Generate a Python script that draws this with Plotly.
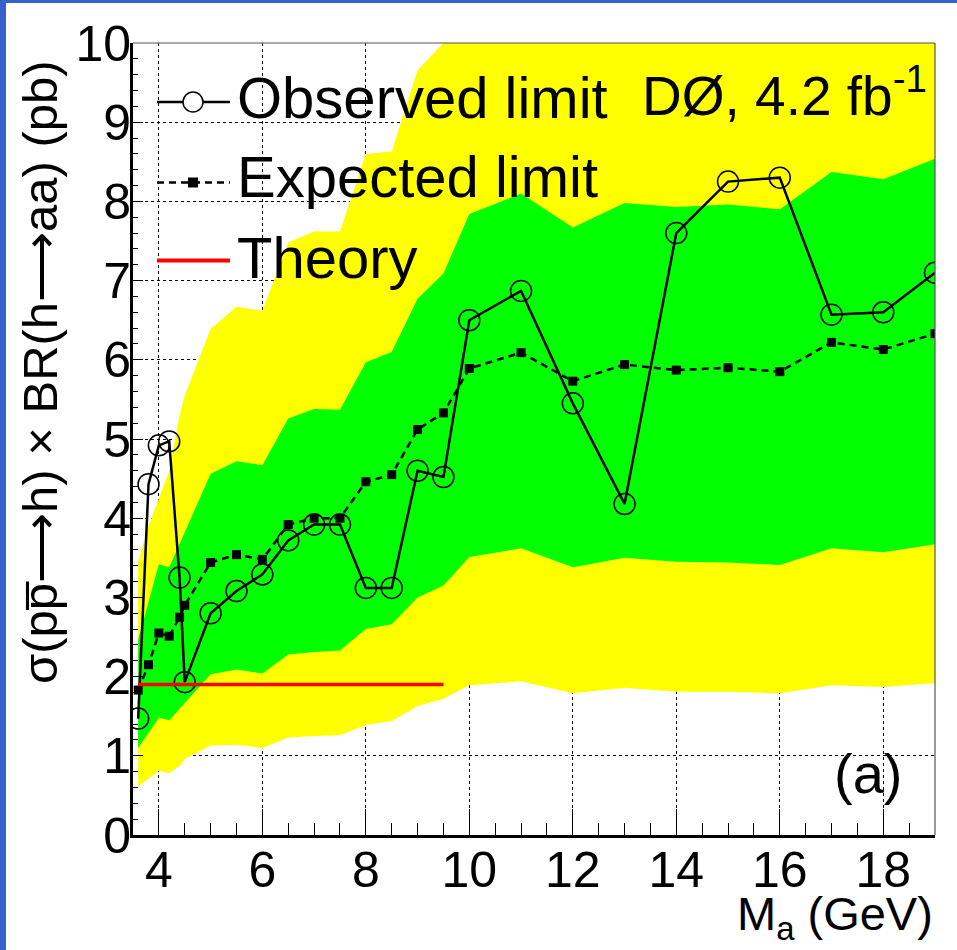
import plotly.graph_objects as go

# ---------------- data ----------------
mass = [3.6, 3.8, 4.0, 4.2, 4.4, 4.5, 5.0, 5.5, 6.0, 6.5, 7.0, 7.5, 8.0, 8.5,
        9.0, 9.5, 10, 11, 12, 13, 14, 15, 16, 17, 18, 19]
observed = [1.47, 4.43, 4.92, 4.97, 3.25, 1.93, 2.80, 3.08, 3.29, 3.72, 3.92, 3.92,
            3.12, 3.12, 4.60, 4.52, 6.50, 6.87, 5.45, 4.18, 7.60, 8.25, 8.30, 6.57,
            6.60, 7.10]
expected = [1.83, 2.15, 2.55, 2.51, 2.75, 2.90, 3.44, 3.54, 3.48, 3.92, 4.00, 4.00,
            4.46, 4.55, 5.12, 5.33, 5.89, 6.09, 5.73, 5.94, 5.87, 5.90, 5.85, 6.22,
            6.13, 6.33]
one_sigma_lo = [1.10, 1.29, 1.48, 1.45, 1.60, 1.67, 2.03, 2.09, 2.04, 2.28, 2.31, 2.33,
                2.60, 2.66, 3.00, 3.15, 3.51, 3.62, 3.38, 3.50, 3.45, 3.44, 3.41, 3.62,
                3.57, 3.67]
one_sigma_hi = [2.47, 2.93, 3.42, 3.38, 3.67, 3.83, 4.56, 4.72, 4.67, 5.26, 5.38, 5.37,
                5.97, 6.10, 6.77, 7.09, 7.84, 8.10, 7.67, 7.98, 7.93, 7.96, 7.90, 8.37,
                8.28, 8.54]
two_sigma_lo = [0.62, 0.71, 0.81, 0.78, 0.87, 0.96, 1.13, 1.14, 1.10, 1.23, 1.25, 1.26,
                1.39, 1.44, 1.63, 1.72, 1.89, 1.94, 1.79, 1.86, 1.81, 1.81, 1.79, 1.89,
                1.87, 1.92]
two_sigma_hi = [3.45, 3.90, 4.25, 4.60, 5.30, 5.55, 6.39, 6.67, 6.62, 7.48, 7.62, 7.62,
                8.60, 8.63, 9.66, 10.0, 10.9, 11.3, 10.7, 11.0, 10.9, 10.9, 10.8, 11.6,
                11.4, 11.8]
theory_mass = [3.6, 9.5]
theory_xsec = [1.9, 1.9]

x_ticks = [4, 6, 8, 10, 12, 14, 16, 18]
y_ticks = [0, 1, 2, 3, 4, 5, 6, 7, 8, 9, 10]

FONT = "Liberation Sans, Arial, sans-serif"

# ---------------- figure ----------------
W, H = 957, 950
L, R, T, B = 133, 935, 43, 835
pw, ph = R - L, B - T


def px(xp):
    return (xp - L) / pw


def py(yp):
    return (B - yp) / ph


fig = go.Figure()

fig.add_trace(go.Scatter(
    x=mass + mass[::-1], y=two_sigma_hi + two_sigma_lo[::-1],
    fill="toself", fillcolor="#ffff00", line=dict(width=0), mode="lines",
    hoverinfo="skip", showlegend=False))
fig.add_trace(go.Scatter(
    x=mass + mass[::-1], y=one_sigma_hi + one_sigma_lo[::-1],
    fill="toself", fillcolor="#00ff00", line=dict(width=0), mode="lines",
    hoverinfo="skip", showlegend=False))
fig.add_trace(go.Scatter(
    x=mass, y=expected, mode="lines+markers",
    line=dict(color="black", width=2.5, dash="7px,5px"),
    marker=dict(symbol="square", size=9, color="black"),
    showlegend=False, name="Expected limit"))
fig.add_trace(go.Scatter(
    x=mass, y=observed, mode="lines+markers",
    line=dict(color="black", width=2.5),
    marker=dict(symbol="circle-open", size=21, color="black", line=dict(width=1.5)),
    showlegend=False, name="Observed limit"))
fig.add_trace(go.Scatter(
    x=theory_mass, y=theory_xsec, mode="lines",
    line=dict(color="#ff0000", width=3.5),
    showlegend=False, name="Theory"))

shapes = []
# blue frame of the page
blue = "#3461cc"
shapes.append(dict(type="rect", xref="paper", yref="paper", x0=px(0), x1=px(6),
                   y0=py(H), y1=py(0), fillcolor=blue, line=dict(width=0), layer="above"))
shapes.append(dict(type="rect", xref="paper", yref="paper", x0=px(0), x1=px(W),
                   y0=py(3), y1=py(0), fillcolor=blue, line=dict(width=0), layer="above"))
# thin grey top and right frame
shapes.append(dict(type="line", xref="paper", yref="paper", x0=0, x1=1, y0=1, y1=1,
                   line=dict(color="#555555", width=1.2), layer="above"))
shapes.append(dict(type="line", xref="paper", yref="paper", x0=1, x1=1, y0=0, y1=1,
                   line=dict(color="#555555", width=1.2), layer="above"))

# manual legend symbols
lx0, lx1, lxc = px(157), px(230), 193
rows = [102, 182.5, 260.5]
shapes.append(dict(type="line", xref="paper", yref="paper", x0=lx0, x1=lx1,
                   y0=py(rows[0]), y1=py(rows[0]), line=dict(color="black", width=2.5)))
shapes.append(dict(type="circle", xref="paper", yref="paper",
                   x0=px(lxc - 10), x1=px(lxc + 10), y0=py(rows[0] + 10), y1=py(rows[0] - 10),
                   fillcolor="white", line=dict(color="black", width=1.5)))
shapes.append(dict(type="line", xref="paper", yref="paper", x0=lx0, x1=lx1,
                   y0=py(rows[1]), y1=py(rows[1]),
                   line=dict(color="black", width=2.5, dash="7px,5px")))
shapes.append(dict(type="rect", xref="paper", yref="paper",
                   x0=px(lxc - 5), x1=px(lxc + 5), y0=py(rows[1] + 5), y1=py(rows[1] - 5),
                   fillcolor="black", line=dict(width=0)))
shapes.append(dict(type="line", xref="paper", yref="paper", x0=lx0, x1=lx1,
                   y0=py(rows[2]), y1=py(rows[2]), line=dict(color="#ff0000", width=4)))

annotations = [
    dict(text="Observed limit", x=px(235), y=py(97), xanchor="left", yanchor="middle"),
    dict(text="Expected limit", x=px(235), y=py(176), xanchor="left", yanchor="middle"),
    dict(text="Theory", x=px(235), y=py(257), xanchor="left", yanchor="middle"),
    dict(text="DØ, 4.2 fb<sup>-1</sup>", x=px(640), y=py(92), xanchor="left",
         yanchor="middle", font=dict(size=55)),
    dict(text="(a)", x=px(868), y=py(773), xanchor="center", yanchor="middle",
         font=dict(size=56)),
    dict(text="σ(pp\u0305⟶h) × BR(h⟶aa) (pb)", x=px(40), y=py(372), textangle=-90,
         xanchor="center", yanchor="middle", font=dict(size=49)),
    dict(text="M<sub>a</sub> (GeV)", x=px(935), y=py(917), xanchor="right",
         yanchor="middle", font=dict(size=47)),
]
for a in annotations:
    a.setdefault("font", dict(size=58))
    a["font"] = dict(family=FONT, color="black", **a["font"])
    a.update(xref="paper", yref="paper", showarrow=False)

fig.update_layout(
    width=W, height=H,
    margin=dict(l=L, r=W - R, t=T, b=H - B, pad=0),
    paper_bgcolor="white", plot_bgcolor="white",
    font=dict(family=FONT, color="black"),
    shapes=shapes, annotations=annotations,
    showlegend=False,
)
fig.update_xaxes(
    range=[3.5, 19], tickvals=x_ticks, ticktext=[str(v) for v in x_ticks],
    ticks="inside", ticklen=26, tickwidth=1.2, tickcolor="black",
    minor=dict(dtick=0.5, tick0=0, ticks="inside", ticklen=12, tickwidth=1.2,
               tickcolor="black", showgrid=False),
    showline=True, linecolor="black", linewidth=3, mirror=False,
    showgrid=True, gridcolor="black", griddash="dot", gridwidth=1,
    zeroline=False, tickfont=dict(size=50, family=FONT), ticklabelstandoff=-11,
)
fig.update_yaxes(
    range=[0, 10], tickvals=y_ticks, ticktext=[str(v) for v in y_ticks],
    ticks="inside", ticklen=10, tickwidth=1.2, tickcolor="black",
    minor=dict(dtick=0.2, tick0=0, ticks="inside", ticklen=5, tickwidth=1.2,
               tickcolor="black", showgrid=False),
    showline=True, linecolor="black", linewidth=3, mirror=False,
    showgrid=True, gridcolor="black", griddash="dot", gridwidth=1,
    zeroline=False, tickfont=dict(size=50, family=FONT), ticklabelstandoff=-11,
)

fig.write_html("out.html", config={"displayModeBar": False},
               post_script="document.body.style.margin='0';")
